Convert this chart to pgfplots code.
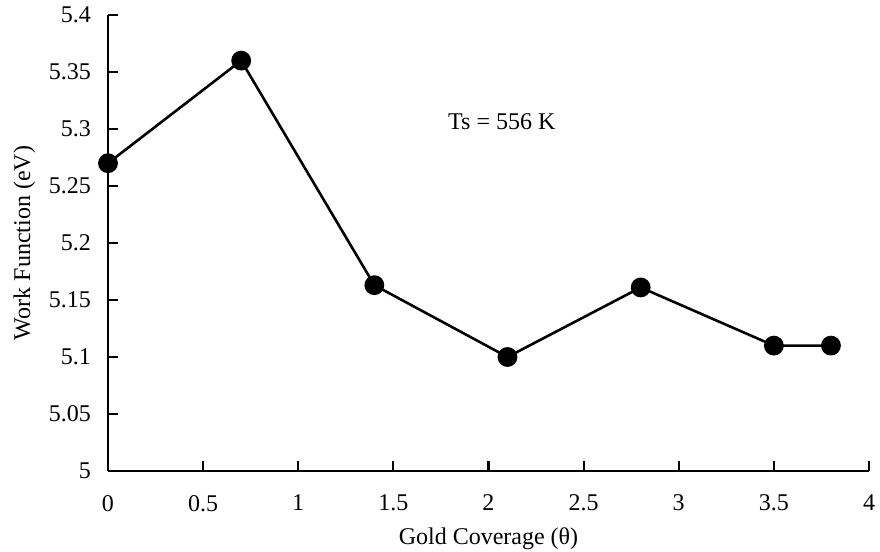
\documentclass[border=0pt]{standalone}
\usepackage{fontspec}
\setmainfont{Liberation Serif}
\usepackage{pgfplots}
\pgfplotsset{compat=1.18}
\begin{document}
\begin{tikzpicture}
\path[use as bounding box] (-54pt,-40.5pt) rectangle (386pt,235.5pt);
\begin{axis}[
  scale only axis,
  width=380.5pt, height=228pt,
  xmin=0, xmax=4, ymin=5, ymax=5.4,
  axis x line*=bottom, axis y line*=left,
  axis line style={line width=1.1pt,-},
  xtick={0,0.5,...,4}, ytick={5,5.05,...,5.4},
  tick align=inside,
  major tick length=5pt,
  tick style={line width=1.1pt,black},
  /pgf/number format/assume math mode=true,
  yticklabel style={/pgf/number format/fixed,/pgf/number format/precision=2},
  xticklabel style={/pgf/number format/fixed},
  ticklabel style={font=\fontsize{12}{14}\selectfont},
  xticklabel shift=8.5pt,
  yticklabel shift=5pt,
  xlabel={Gold Coverage (θ)},
  ylabel={Work Function (eV)},
  label style={font=\fontsize{12}{14}\selectfont},
  xlabel style={yshift=-1.5pt},
  ylabel style={yshift=0pt},
  clip=false,
]
\addplot[black, line width=1.3pt, mark=*, mark size=4.3pt, mark options={fill=black}]
coordinates {(0,5.27) (0.7,5.36) (1.4,5.163) (2.1,5.1) (2.8,5.161) (3.5,5.11) (3.8,5.11)};
\node[font=\fontsize{12}{14}\selectfont] at (axis cs:2.07,5.306) {Ts = 556 K};
\end{axis}
\end{tikzpicture}
\end{document}
